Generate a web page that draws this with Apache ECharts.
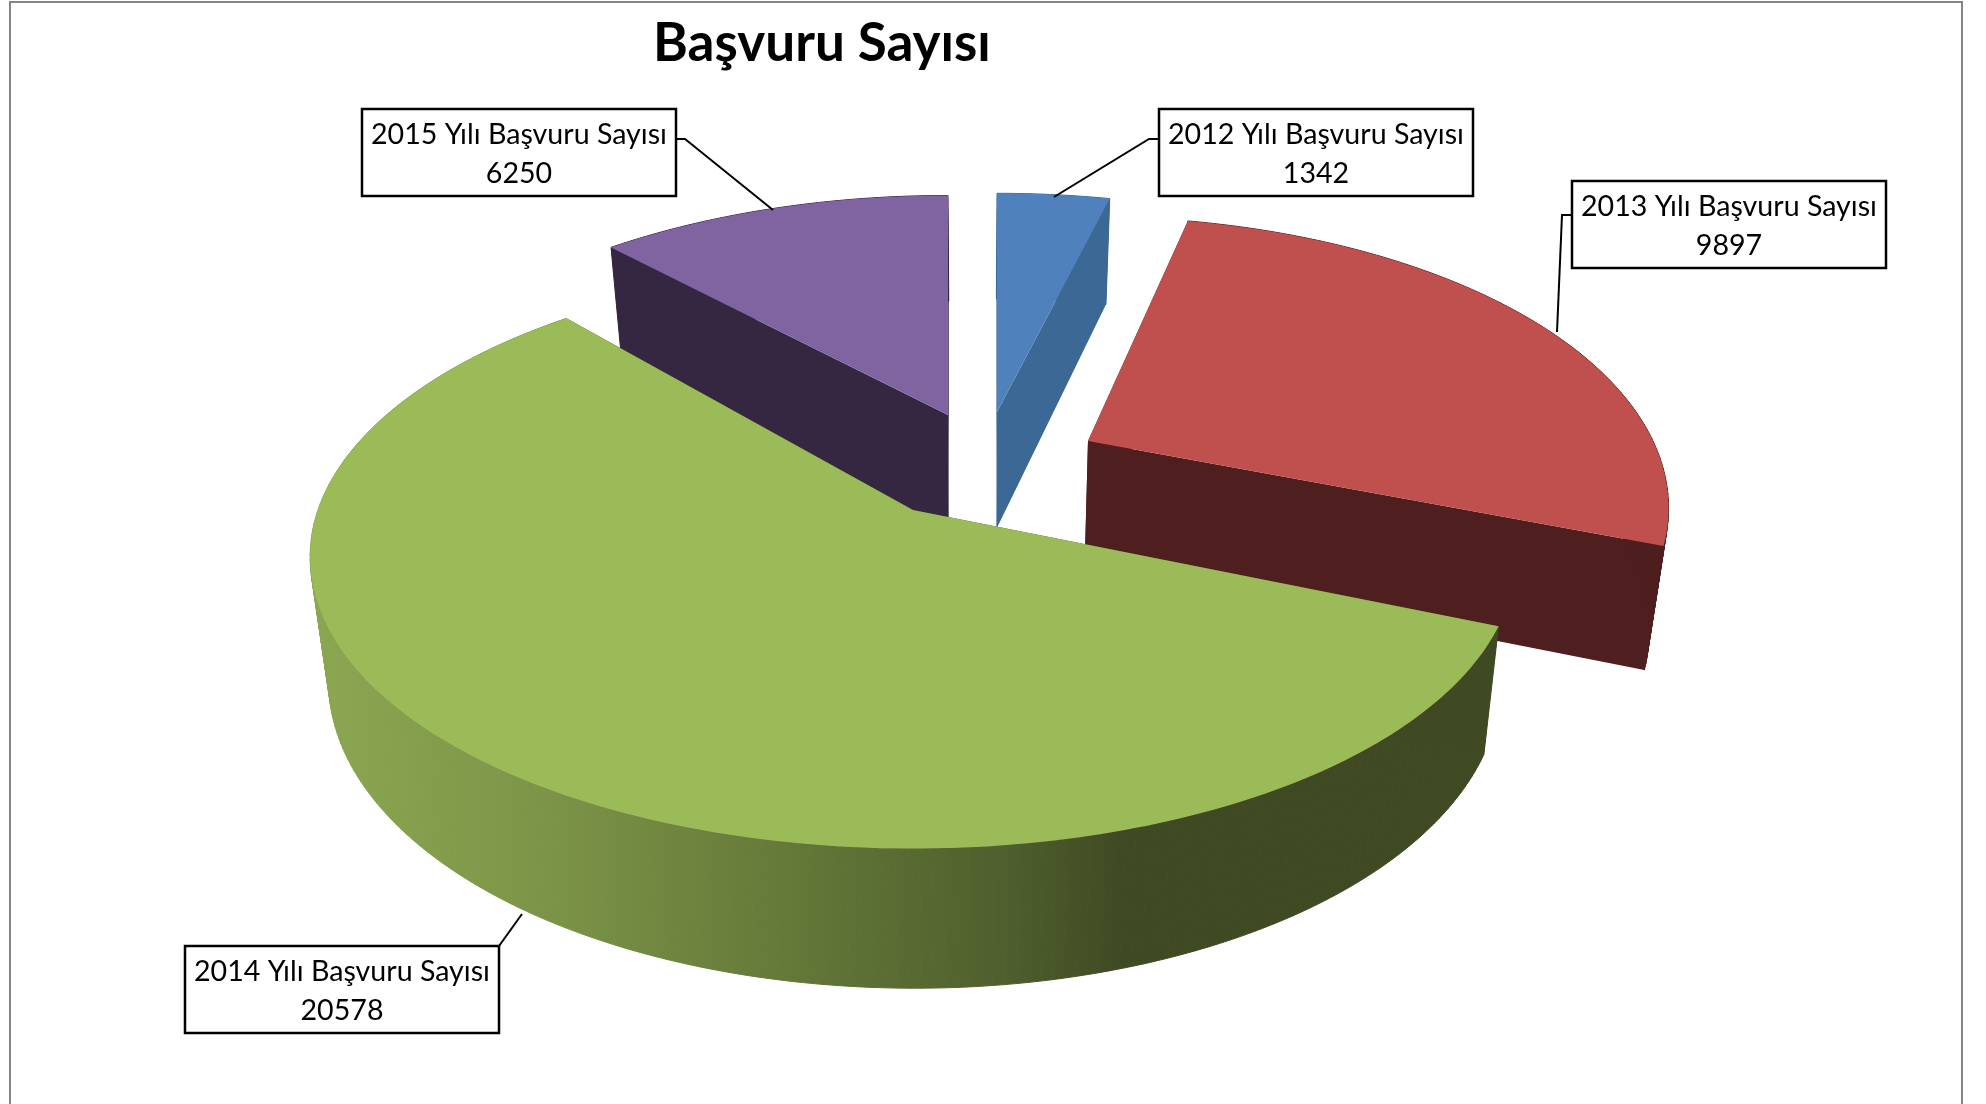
<!DOCTYPE html>
<html>
<head>
<meta charset="utf-8">
<title>Başvuru Sayısı</title>
<script src="https://cdn.jsdelivr.net/npm/echarts@6/dist/echarts.min.js"></script>
<style>
html, body { margin: 0; padding: 0; background: #fff; }
#main { width: 1986px; height: 1104px; }
</style>
</head>
<body>
<div id="main"></div>
<script>
var chartTitle = 'Başvuru Sayısı';
var categories = ['2012 Yılı Başvuru Sayısı', '2013 Yılı Başvuru Sayısı', '2014 Yılı Başvuru Sayısı', '2015 Yılı Başvuru Sayısı'];
var values = [1342, 9897, 20578, 6250];
// where each slice starts and how many degrees it covers:
// the slices there do not follow the printed values exactly
var sliceStarts = [0, 12.5, 112.6, 316.4];
var sliceSweeps = [14, 98, 206.6, 43.6];

var topColors = ['#4f81bd', '#c0504d', '#9bbb59', '#8064a2'];
var faceColors = ['#3c6896', '#4f1e1e', '#3f4a23', '#352742'];
var apexes = [[997, 412], [1088, 441], [913, 510], [948, 415]];
// radius x, radius y, perspective of each exploded slice
var discs = [[570, 269, 0.23], [565, 276, 0.23], [595, 284, 0.161], [570, 270, 0.23]];
var drawOrder = [1, 2, 3, 0];   // purple goes first, green last
var labelBoxes = [[1159, 109], [1572, 181], [185, 946], [362, 109]];
var leaders = [
    [[1159, 139], [1149, 139], [1054, 197]],
    [[1572, 215], [1562, 215], [1557, 332]],
    [[499, 946], [522, 914]],
    [[676, 139], [685, 139], [773, 210]]
];
var boxW = 314, boxH = 87;

function project(i, deg) {
    var t = deg * Math.PI / 180;
    var d = discs[i];
    var w = 1 + d[2] * Math.cos(t);
    return [apexes[i][0] + d[0] * Math.sin(t) / w, apexes[i][1] - d[1] * Math.cos(t) / w];
}
// point on the underside of the disc
function drop(p) {
    return [975 + (p[0] - 975) * 0.972, p[1] + 106 + 0.052 * (p[1] - 200)];
}
function arcPoints(i, from, to) {
    var pts = [];
    var n = Math.ceil(to - from);
    for (var j = 0; j <= n; j++) {
        pts.push(project(i, from + (to - from) * j / n));
    }
    return pts;
}

var rimGradient = new echarts.graphic.LinearGradient(320, 0, 1500, 0, [
    { offset: 0, color: '#8ba651' },
    { offset: 0.2, color: '#7b9347' },
    { offset: 0.4, color: '#647838' },
    { offset: 0.58, color: '#4f5f2d' },
    { offset: 0.68, color: '#3f4a23' },
    { offset: 1, color: '#3f4a23' }
], true);

function renderSlice(params, api) {
    var i = api.value(0);
    var from = api.value(1);
    var to = from + api.value(2);
    var apex = apexes[i];
    var arc = arcPoints(i, from, to);
    var base = drawOrder[i] * 1000;
    var rimFill = i == 2 ? rimGradient : faceColors[i];
    var first = arc[0], last = arc[arc.length - 1];
    var dropApex = drop(apex);
    var children = [
        { type: 'polygon', z2: base + 1, shape: { points: [apex, first, drop(first), dropApex] }, style: { fill: faceColors[i] } },
        { type: 'polygon', z2: base + 1, shape: { points: [apex, last, drop(last), dropApex] }, style: { fill: faceColors[i] } }
    ];
    // the rim goes piece by piece so that its silhouette stays filled at the sides
    for (var j = 0; j < arc.length - 1; j++) {
        children.push({
            type: 'polygon',
            z2: base + 2,
            shape: { points: [arc[j], arc[j + 1], drop(arc[j + 1]), drop(arc[j])] },
            style: { fill: rimFill, stroke: rimFill, lineWidth: 1 }
        });
    }
    children.push({ type: 'polygon', z2: base + 3, shape: { points: [apex].concat(arc) }, style: { fill: topColors[i] } });
    return { type: 'group', children: children };
}

var sliceData = [];
for (var i = 0; i < values.length; i++) {
    sliceData.push([i, sliceStarts[i], sliceSweeps[i], values[i]]);
}

var graphics = [{
    type: 'rect',
    shape: { x: 10, y: 2, width: 1952, height: 1120 },
    style: { fill: 'none', stroke: '#868686', lineWidth: 2 },
    z: 1
}];
for (var k = 0; k < categories.length; k++) {
    graphics.push({
        type: 'polyline',
        shape: { points: leaders[k] },
        style: { fill: 'none', stroke: '#000', lineWidth: 2 },
        z: 10
    });
    graphics.push({
        type: 'rect',
        shape: { x: labelBoxes[k][0], y: labelBoxes[k][1], width: boxW, height: boxH },
        style: { fill: '#fff', stroke: '#000', lineWidth: 2.5 },
        z: 10
    });
    graphics.push({
        type: 'text',
        x: labelBoxes[k][0] + boxW / 2,
        y: labelBoxes[k][1] + boxH / 2 + 2,
        style: {
            text: categories[k] + '\n' + values[k],
            fill: '#000',
            font: '28.6px Lato',
            lineHeight: 39,
            align: 'center',
            verticalAlign: 'middle'
        },
        z: 11
    });
}

var myChart = echarts.init(document.getElementById('main'), null, { renderer: 'canvas' });
myChart.setOption({
    animation: false,
    backgroundColor: '#fff',
    title: {
        text: chartTitle,
        left: 817,
        top: 12,
        textAlign: 'center',
        textStyle: { fontFamily: 'Lato', fontSize: 53, fontWeight: 'bold', color: '#000' }
    },
    series: [{
        type: 'custom',
        coordinateSystem: 'none',
        renderItem: renderSlice,
        data: sliceData,
        silent: true
    }],
    graphic: graphics
});
</script>
</body>
</html>
